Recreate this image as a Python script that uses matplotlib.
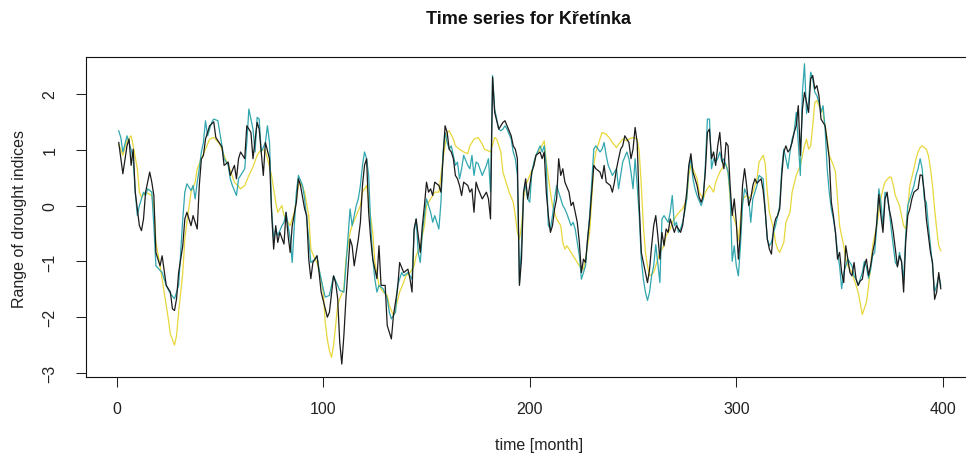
import numpy as np
import matplotlib
matplotlib.use("Agg")
import matplotlib.pyplot as plt

plt.rcParams['font.family'] = ['Liberation Sans', 'DejaVu Sans']

# (month, index value) pairs
black = [(1,1.13),(3,0.57),(5,1.07),(6,1.19),(7,0.72),(8,1.01),(9,0.24),(11,-0.36),(12,-0.45),(13,-0.24),
    (14,0.24),(16,0.60),(17,0.42),(18,0.18),(19,-0.84),(21,-1.08),(22,-0.90),(24,-1.43),(26,-1.55),(27,-1.85),
    (28,-1.88),(29,-1.67),(30,-1.20),(32,-0.72),(33,-0.24),(34,-0.12),(36,-0.36),(37,-0.18),(39,-0.42),(40,0.36),
    (41,0.83),(42,0.90),(43,1.19),(45,1.43),(47,1.50),(48,1.22),(51,1.05),(52,0.72),(54,0.78),(55,0.54),
    (57,0.72),(58,0.48),(59,0.84),(60,0.96),(62,0.84),(63,1.43),(65,1.31),(66,0.84),(68,1.49),(69,1.37),
    (71,0.54),(72,1.13),(74,0.84),(75,-0.12),(76,-0.78),(77,-0.36),(78,-0.66),(79,-0.48),(81,-0.69),(82,-0.12),
    (83,-0.54),(84,-0.84),(85,-0.36),(87,0.06),(88,0.48),(89,0.36),(91,-0.06),(92,-0.18),(93,-0.96),(94,-1.31),
    (95,-1.02),(97,-0.90),(98,-1.20),(99,-1.55),(100,-1.70),(102,-2.00),(103,-1.91),(105,-1.26),(106,-1.38),(107,-1.67),
    (108,-2.45),(109,-2.84),(110,-2.33),(111,-1.67),(113,-0.60),(114,-0.72),(115,-1.08),(117,-0.60),(118,-0.30),(119,0.36),
    (120,0.72),(121,0.84),(122,-0.12),(123,-0.60),(124,-0.96),(126,-1.31),(127,-0.72),(128,-1.43),(130,-1.43),(131,-2.15),
    (133,-2.39),(134,-1.97),(136,-1.49),(137,-1.02),(139,-1.20),(141,-1.14),(142,-1.31),(143,-1.55),(144,-0.42),(145,-0.24),
    (147,-0.84),(148,-0.36),(149,0.00),(150,0.42),(151,0.24),(152,0.30),(153,0.18),(154,0.42),(156,0.36),(157,0.24),
    (158,0.84),(159,1.43),(160,1.31),(161,1.01),(162,0.96),(163,0.84),(164,0.54),(165,0.48),(166,0.36),(167,0.18),
    (168,0.42),(170,0.36),(171,0.24),(172,0.30),(173,-0.12),(174,0.42),(175,0.30),(177,0.12),(179,0.24),(180,0.12),
    (181,-0.24),(182,2.30),(183,1.67),(185,1.37),(186,1.43),(187,1.49),(188,1.52),(189,1.43),(191,1.25),(192,1.07),
    (193,1.01),(194,0.84),(195,-1.43),(196,-0.96),(197,0.24),(198,0.48),(199,0.12),(201,0.60),(202,0.72),(203,0.90),
    (205,0.96),(206,0.84),(207,0.96),(208,0.24),(209,-0.18),(210,-0.48),(211,-0.36),(212,-0.06),(213,0.12),(214,0.84),
    (215,0.54),(216,0.66),(217,0.42),(219,0.24),(220,0.00),(221,0.06),(222,-0.12),(223,-0.30),(224,-0.66),(225,-1.20),
    (226,-0.96),(227,-1.02),(228,-0.60),(229,-0.24),(230,0.24),(231,0.72),(232,0.66),(234,0.60),(235,0.48),(236,0.72),
    (237,0.42),(239,0.36),(240,0.24),(241,0.42),(242,0.66),(243,0.84),(244,1.01),(245,1.07),(246,1.25),(248,1.13),
    (249,0.84),(250,1.01),(251,1.40),(252,1.13),(253,0.00),(254,-0.84),(255,-1.02),(256,-1.20),(257,-1.38),(258,-1.14),
    (259,-0.72),(260,-0.36),(261,-0.18),(262,-0.54),(263,-0.96),(264,-0.48),(265,-0.72),(266,-0.42),(267,-0.48),(268,-0.24),
    (269,-0.36),(270,-0.48),(271,-0.36),(273,-0.48),(274,-0.36),(275,-0.06),(276,0.24),(277,0.72),(278,0.93),(279,0.60),
    (280,0.48),(281,0.36),(282,0.15),(283,0.06),(284,0.18),(285,0.60),(286,1.31),(287,1.37),(288,0.84),(289,0.96),
    (290,0.72),(291,1.07),(292,1.31),(293,0.84),(294,0.66),(295,1.13),(296,1.07),(297,0.36),(298,-0.18),(299,0.12),
    (300,-0.30),(301,-0.96),(302,-0.48),(303,0.36),(304,0.66),(305,0.36),(306,0.00),(307,0.12),(308,0.36),(309,0.48),
    (310,0.40),(312,0.48),(313,0.27),(314,-0.10),(315,-0.60),(316,-0.78),(317,-0.87),(318,-0.42),(319,-0.24),(320,-0.18),
    (321,-0.06),(322,0.54),(323,0.96),(324,1.07),(325,0.96),(326,1.01),(327,1.13),(328,1.31),(329,1.43),(330,1.79),
    (331,0.90),(332,1.73),(333,2.03),(334,1.85),(335,1.67),(336,2.27),(337,2.33),(338,2.09),(339,2.15),(340,1.97),
    (341,1.55),(342,1.49),(343,1.43),(345,0.84),(346,0.06),(347,-0.18),(348,-0.48),(349,-0.96),(350,-0.84),(351,-1.20),
    (352,-1.38),(353,-0.72),(354,-0.96),(355,-1.20),(356,-1.26),(357,-1.02),(358,-1.32),(359,-1.43),(360,-1.35),(361,-1.32),
    (362,-1.08),(363,-0.96),(364,-1.25),(365,-1.08),(366,-0.84),(367,-0.66),(368,-0.30),(369,0.20),(370,-0.18),(371,-0.48),
    (372,0.12),(373,0.24),(374,-0.06),(375,-0.24),(376,-0.48),(377,-0.78),(378,-1.10),(379,-0.90),(380,-1.00),(381,-1.55),
    (382,-0.66),(383,-0.18),(384,-0.06),(385,0.12),(386,0.24),(388,0.30),(389,0.55),(390,0.54),(391,0.24),(392,-0.24),
    (393,-0.54),(394,-0.84),(395,-1.02),(396,-1.68),(397,-1.55),(398,-1.20),(399,-1.49)]

teal = [(1,1.34),(2,1.22),(3,0.96),(4,1.10),(5,1.25),(6,1.13),(7,1.00),(8,0.84),(9,0.24),(10,-0.18),
    (11,0.00),(13,0.24),(14,0.18),(15,0.30),(17,0.24),(18,-0.36),(19,-1.08),(22,-1.20),(24,-1.43),(26,-1.58),
    (28,-1.67),(30,-1.43),(31,-0.84),(32,-0.24),(33,0.24),(34,0.39),(36,0.27),(37,0.36),(38,0.12),(39,0.42),
    (40,0.66),(41,0.96),(42,1.13),(43,1.52),(44,1.25),(46,1.49),(47,1.55),(49,1.52),(51,1.07),(52,0.84),
    (54,0.72),(55,0.48),(56,0.36),(58,0.18),(59,0.48),(60,0.54),(62,0.66),(63,1.13),(64,1.73),(66,1.37),
    (67,0.96),(68,1.58),(69,1.55),(70,0.96),(72,1.13),(73,1.43),(74,1.13),(75,-0.06),(76,-0.60),(77,-0.42),
    (78,-0.54),(80,-0.36),(81,-0.30),(82,-0.12),(84,-0.60),(85,-1.02),(86,-0.36),(87,0.24),(88,0.54),(90,0.36),
    (91,0.12),(93,-0.60),(94,-1.02),(96,-0.96),(97,-0.90),(98,-1.14),(100,-1.49),(101,-1.64),(103,-1.61),(105,-1.26),
    (107,-1.43),(108,-1.52),(110,-1.55),(111,-1.08),(113,-0.06),(114,-0.36),(116,0.00),(117,0.12),(118,0.36),(119,0.72),
    (120,0.96),(121,0.84),(122,0.54),(123,-0.36),(124,-0.96),(125,-1.32),(126,-1.55),(127,-1.43),(129,-1.49),(131,-1.67),
    (132,-1.91),(133,-2.03),(135,-1.91),(136,-1.43),(138,-1.20),(139,-1.26),(141,-1.20),(143,-1.32),(144,-0.48),(145,-0.24),
    (146,-0.84),(147,-1.02),(148,-0.48),(150,0.12),(151,0.00),(152,-0.12),(153,-0.30),(154,-0.18),(156,-0.42),(157,0.06),
    (158,0.96),(159,1.31),(160,1.13),(161,1.01),(162,1.07),(163,0.90),(164,0.72),(165,0.78),(166,0.48),(167,0.66),
    (168,0.90),(170,0.72),(171,0.66),(172,0.90),(173,0.54),(174,0.78),(175,0.75),(177,0.54),(179,0.72),(180,0.84),
    (181,0.24),(182,2.33),(183,1.73),(184,1.55),(185,1.37),(186,1.34),(187,1.37),(188,1.43),(189,1.37),(191,1.19),
    (192,0.96),(193,0.84),(194,0.54),(195,-1.40),(196,-0.72),(197,0.24),(198,0.36),(199,0.12),(200,0.06),(201,0.60),
    (202,0.78),(203,0.90),(205,1.07),(206,0.96),(207,1.07),(208,0.72),(209,-0.36),(210,-0.42),(211,-0.18),(212,0.12),
    (213,0.36),(214,0.24),(215,0.12),(216,0.00),(217,-0.06),(218,-0.15),(220,-0.36),(221,-0.30),(222,-0.42),(223,-0.66),
    (224,-0.90),(225,-1.32),(227,-1.08),(228,-0.60),(229,-0.18),(230,0.42),(231,1.01),(232,1.07),(234,0.96),(235,1.01),
    (236,1.13),(237,0.90),(238,0.72),(240,0.54),(241,0.60),(242,0.66),(243,0.30),(244,0.54),(245,0.78),(247,0.96),
    (248,0.84),(249,0.60),(250,0.30),(251,0.84),(252,0.36),(253,-0.18),(254,-0.96),(255,-1.32),(256,-1.55),(257,-1.70),
    (258,-1.55),(259,-1.26),(260,-1.08),(261,-0.70),(263,-1.38),(264,-0.24),(265,-0.18),(267,-0.30),(268,-0.12),(269,0.18),
    (270,-0.36),(271,-0.30),(272,-0.48),(273,-0.42),(274,-0.30),(275,-0.12),(276,0.12),(277,0.66),(278,0.84),(279,0.48),
    (280,0.30),(281,0.18),(283,0.00),(284,0.12),(285,0.72),(286,1.55),(287,1.55),(288,0.66),(289,0.84),(290,0.78),
    (291,0.84),(292,0.96),(293,0.78),(294,0.84),(295,0.72),(296,0.60),(297,0.24),(298,-1.00),(299,-0.72),(300,-1.08),
    (301,-1.26),(302,-0.72),(303,0.00),(304,0.30),(306,0.12),(307,-0.30),(308,0.12),(309,0.24),(310,0.36),(311,0.54),
    (313,0.48),(314,-0.10),(315,-0.60),(316,-0.72),(317,-0.66),(318,-0.48),(319,-0.36),(320,-0.18),(321,0.00),(322,0.66),
    (323,1.01),(324,0.84),(325,0.66),(326,0.96),(327,1.19),(328,1.31),(329,1.67),(330,1.13),(331,0.54),(332,2.03),
    (333,2.54),(334,1.65),(335,1.85),(336,2.39),(337,2.27),(338,2.03),(339,1.97),(340,1.85),(341,1.67),(342,1.79),
    (343,1.37),(344,0.66),(345,0.24),(346,-0.06),(347,-0.24),(348,-0.48),(349,-0.84),(350,-1.08),(351,-1.49),(352,-1.20),
    (354,-0.96),(355,-1.02),(356,-1.08),(357,-1.26),(358,-1.32),(359,-1.43),(361,-1.20),(362,-1.00),(363,-1.10),(364,-1.30),
    (365,-1.15),(366,-0.90),(367,-0.84),(368,-0.36),(369,0.30),(370,0.06),(371,-0.36),(372,0.24),(373,0.18),(374,-0.06),
    (375,-0.42),(376,-0.72),(377,-1.02),(378,-1.08),(379,-0.84),(380,-1.02),(381,-1.32),(382,-0.54),(383,0.00),(384,0.12),
    (385,0.24),(386,0.36),(387,0.54),(388,0.66),(389,0.84),(390,0.66),(391,0.12),(392,0.06),(393,-0.36),(394,-0.72),
    (395,-1.08),(396,-1.55),(397,-1.43),(398,-1.26),(399,-1.43)]

yellow = [(1,1.10),(3,0.90),(5,1.16),(7,1.25),(8,1.07),(10,0.66),(11,0.24),(12,0.15),(14,0.24),(17,0.18),
    (18,0.00),(19,-0.66),(21,-1.08),(23,-1.55),(25,-2.03),(26,-2.30),(28,-2.50),(29,-2.33),(30,-1.91),(32,-1.20),
    (33,-0.60),(34,-0.30),(36,0.24),(38,0.42),(39,0.66),(41,0.84),(43,1.01),(45,1.19),(47,1.22),(50,1.10),
    (52,0.90),(55,0.63),(57,0.42),(60,0.30),(62,0.36),(64,0.54),(66,0.69),(68,0.90),(70,1.01),(72,0.98),
    (73,0.84),(75,0.54),(77,0.06),(78,-0.12),(80,0.00),(81,-0.18),(83,-0.30),(84,-0.36),(86,-0.12),(88,0.36),
    (89,0.42),(91,0.24),(93,-0.18),(94,-0.78),(96,-0.96),(97,-1.02),(99,-1.32),(100,-1.55),(101,-2.10),(102,-2.40),
    (103,-2.60),(104,-2.72),(105,-2.51),(106,-2.15),(107,-1.79),(108,-1.67),(110,-1.49),(111,-0.96),(113,-0.48),(114,-0.36),
    (116,-0.18),(118,0.00),(119,0.24),(121,0.36),(122,0.06),(124,-0.48),(125,-1.02),(127,-1.43),(129,-1.55),(131,-1.61),
    (132,-1.79),(134,-1.97),(135,-1.85),(137,-1.55),(139,-1.37),(140,-1.26),(142,-1.20),(144,-1.08),(145,-0.90),(147,-0.72),
    (149,-0.36),(150,0.00),(152,0.12),(154,0.24),(156,0.24),(158,0.84),(160,1.31),(161,1.34),(163,1.19),(164,1.07),
    (166,1.01),(168,0.96),(170,0.93),(171,1.07),(173,1.19),(175,1.22),(177,1.10),(178,1.01),(180,0.98),(181,0.96),
    (183,1.22),(184,1.19),(186,0.96),(187,0.60),(189,0.36),(190,0.24),(192,0.06),(193,-0.18),(194,-0.48),(195,-0.60),
    (196,-0.36),(197,0.12),(198,0.36),(200,0.54),(202,0.72),(203,0.90),(205,1.01),(207,1.16),(208,0.78),(210,0.24),
    (211,0.00),(213,-0.24),(215,-0.36),(216,-0.66),(217,-0.78),(218,-0.72),(219,-0.78),(221,-0.90),(222,-0.96),(224,-1.08),
    (226,-1.14),(227,-0.96),(229,-0.48),(230,0.12),(231,0.72),(232,0.96),(234,1.19),(235,1.31),(237,1.28),(239,1.19),
    (240,1.13),(242,1.04),(243,1.10),(245,1.19),(247,1.16),(248,1.19),(250,1.22),(252,1.19),(253,0.96),(254,0.36),
    (255,-0.36),(256,-0.84),(257,-1.08),(258,-1.26),(260,-1.20),(261,-1.08),(263,-0.84),(265,-0.72),(266,-0.54),(268,-0.42),
    (269,-0.30),(271,-0.18),(273,-0.09),(274,-0.06),(276,0.12),(277,0.54),(278,0.72),(279,0.66),(281,0.48),(282,0.24),
    (284,0.12),(285,0.24),(287,0.36),(289,0.24),(290,0.42),(292,0.60),(294,0.72),(295,0.75),(296,0.60),(297,0.12),
    (298,-0.12),(300,-0.36),(301,-0.63),(302,-0.24),(303,0.12),(305,0.18),(306,0.12),(308,0.24),(310,0.48),(311,0.78),
    (313,0.90),(314,0.75),(315,0.24),(316,-0.12),(318,-0.42),(319,-0.66),(320,-0.78),(321,-0.84),(323,-0.66),(324,-0.30),
    (326,-0.12),(327,0.24),(329,0.54),(331,0.72),(332,0.90),(333,1.07),(334,1.19),(335,1.01),(336,1.07),(337,1.43),
    (338,1.85),(339,1.88),(340,1.79),(342,1.67),(343,1.43),(344,1.19),(345,0.90),(347,0.72),(348,0.60),(349,0.12),
    (350,-0.36),(352,-0.72),(353,-0.96),(354,-1.08),(356,-1.20),(357,-1.32),(359,-1.55),(361,-1.95),(363,-1.73),(364,-1.45),
    (365,-1.10),(366,-0.72),(368,-0.36),(369,-0.12),(370,0.12),(371,0.30),(372,0.42),(374,0.51),(375,0.51),(376,0.36),
    (377,0.18),(379,0.00),(380,-0.18),(381,-0.36),(382,-0.42),(383,-0.06),(384,0.36),(386,0.66),(387,0.84),(388,0.96),
    (389,1.04),(390,1.07),(392,1.01),(393,0.90),(394,0.66),(395,0.36),(396,-0.06),(397,-0.42),(398,-0.72),(399,-0.81)]

x_ticks = [0, 100, 200, 300, 400]
y_ticks = [-3, -2, -1, 0, 1, 2]

fig = plt.figure(figsize=(9.66, 4.64), dpi=100)
ax = fig.add_axes([0.0887, 0.1847, 0.9237, 0.6897])

for series, col in [(yellow, '#E8D73C'), (teal, '#30A6AE'), (black, '#1c1c1c')]:
    arr = np.array(series)
    ax.plot(arr[:, 0], arr[:, 1], color=col, lw=0.9)

ax.set_xlim(-15, 417)
ax.set_ylim(-3.077, 2.657)
ax.set_xticks(x_ticks)
ax.set_yticks(y_ticks)
ax.tick_params(axis='both', direction='out', length=7.2, width=0.75, labelsize=11.5, colors='#222222')
ax.tick_params(axis='x', pad=10)
ax.tick_params(axis='y', pad=13)
for lab in ax.get_yticklabels():
    lab.set_rotation(90)
    lab.set_va('center')
for sp in ax.spines.values():
    sp.set_linewidth(0.8)
    sp.set_color('#111111')

fig.text(0.547, 0.957, 'Time series for Křetínka', ha='center', va='center',
         fontsize=13, fontweight='bold', color='#111111')
fig.text(0.558, 0.04, 'time [month]', ha='center', va='center', fontsize=11.5, color='#222222')
fig.text(0.02, 0.527, 'Range of drought indices', ha='center', va='center', rotation=90,
         fontsize=11.5, color='#222222')

fig.savefig('out.png', dpi=100)
